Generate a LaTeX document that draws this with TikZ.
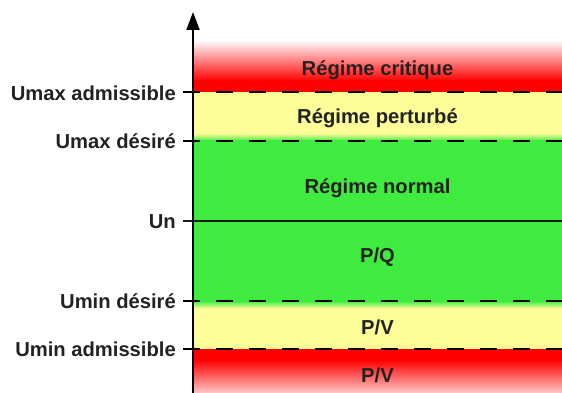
\documentclass[tikz,border=0pt]{standalone}
\usepackage{fontspec}
\setmainfont{Liberation Sans}
\usetikzlibrary{arrows.meta}
\definecolor{cred}{RGB}{255,0,0}
\definecolor{cyellow}{RGB}{252,252,152}
\definecolor{cgreen}{RGB}{64,235,64}
\definecolor{ctext}{RGB}{34,34,34}
\begin{document}
\begin{tikzpicture}[x=1pt,y=-1pt,
  lbl/.style={font=\bfseries\fontsize{20.2}{24}\selectfont, text=ctext, inner sep=0pt},
  ylbl/.style={lbl, anchor=east},
  dashlevel/.style={line width=2pt, dash pattern=on 16.5pt off 16.5pt, draw=black},
  solidlevel/.style={line width=1.3pt, draw=black!90},
  tick/.style={line width=2pt, draw=black}]
\useasboundingbox (0,0) rectangle (562,393);
% bands
\begin{scope}
\clip (193,0) rectangle (562,393);
\shade[top color=white, bottom color=cred] (193,40) rectangle (562,81);
\fill[cred] (193,80.5) rectangle (562,92);
\fill[cyellow] (193,92) rectangle (562,134);
\shade[top color=cyellow, bottom color=cgreen] (193,133.5) rectangle (562,141);
\fill[cgreen] (193,140.5) rectangle (562,301);
\shade[top color=cgreen, bottom color=cyellow] (193,301) rectangle (562,308.5);
\fill[cyellow] (193,308) rectangle (562,349);
\fill[cred] (193,349) rectangle (562,360.5);
\shade[top color=cred, bottom color=white] (193,360) rectangle (562,402);
\end{scope}
% coordinates
\coordinate (t1) at (183,92);   \coordinate (e1) at (562,92);
\coordinate (t2) at (183,141);  \coordinate (e2) at (562,141);
\coordinate (t3) at (183,221);  \coordinate (e3) at (562,221);
\coordinate (t4) at (183,301);  \coordinate (e4) at (562,301);
\coordinate (t5) at (183,349);  \coordinate (e5) at (562,349);
\coordinate (a1) at (193,92);  \coordinate (a2) at (193,141);
\coordinate (a4) at (193,301); \coordinate (a5) at (193,349);
% level lines
\draw[dashlevel] (t1) -- (e1);
\draw[dashlevel] (t2) -- (e2);
\draw[solidlevel] (t3) -- (e3);
\draw[dashlevel] (t4) -- (e4);
\draw[dashlevel] (t5) -- (e5);
\draw[tick] (t1) -- (a1);
\draw[tick] (t2) -- (a2);
\draw[tick] (t4) -- (a4);
\draw[tick] (t5) -- (a5);
% axis
\coordinate (axbot) at (193,393);
\coordinate (axtop) at (193,12);
\draw[line width=2pt, -{Triangle[length=18pt,width=13pt]}] (axbot) -- (axtop);
% y labels
\node[ylbl] (umaxadm) at (176,93) {Umax admissible};
\node[ylbl] (umaxdes) at (176,141.5) {Umax désiré};
\node[ylbl] (un) at (176,221.5) {Un};
\node[ylbl] (umindes) at (176,301.5) {Umin désiré};
\node[ylbl] (uminadm) at (176,349.5) {Umin admissible};
% band labels
\node[lbl] (crit) at (377.5,70) {Régime critique};
\node[lbl] (pert) at (377.5,118) {Régime perturbé};
\node[lbl] (norm) at (377.5,188) {Régime normal};
\node[lbl] (pq) at (377.5,257) {P/Q};
\node[lbl] (pv1) at (377.5,327) {P/V};
\node[lbl] (pv2) at (377.5,375) {P/V};
\end{tikzpicture}
\end{document}
